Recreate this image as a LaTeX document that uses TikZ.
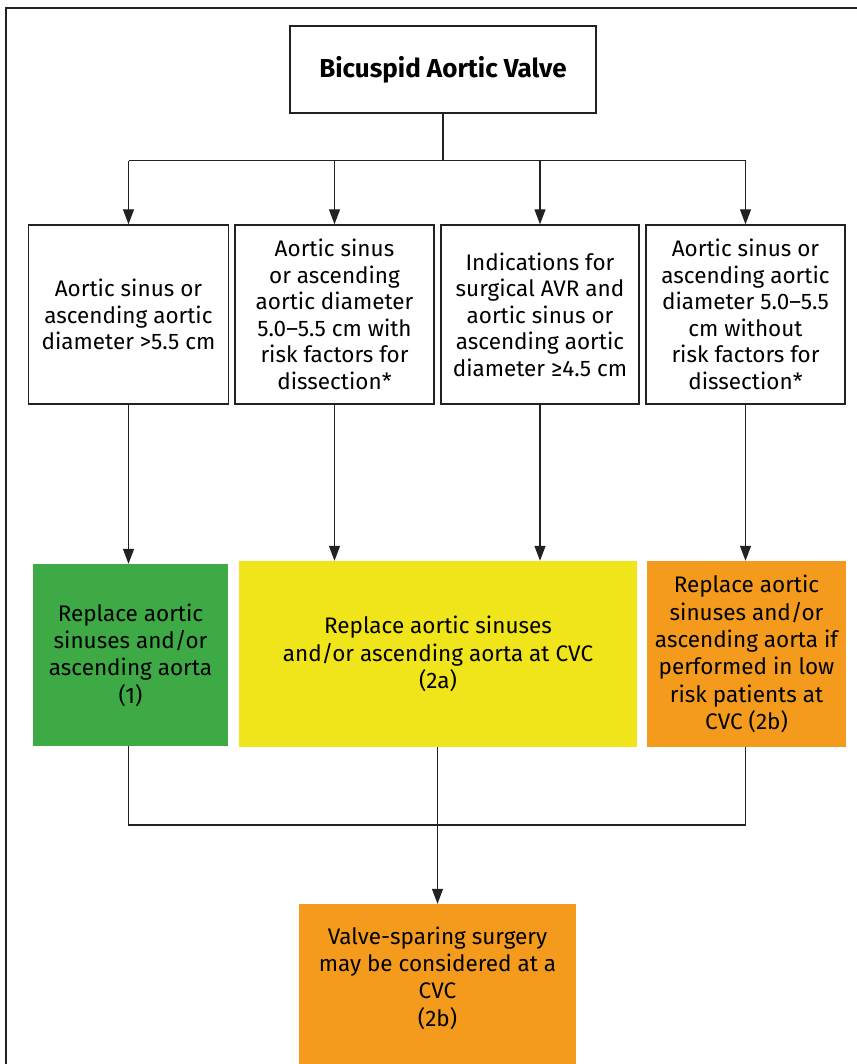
\documentclass[tikz,border=0pt]{standalone}
\usepackage{fontspec}
\setmainfont{Fira Sans}
\usetikzlibrary{arrows.meta}
\definecolor{bgreen}{HTML}{3DAA45}
\definecolor{byellow}{HTML}{F0E41A}
\definecolor{borange}{HTML}{F49B1E}
\definecolor{lineblk}{HTML}{222222}
\begin{document}
\begin{tikzpicture}[x=1pt,y=-1pt,
  box/.style={draw=lineblk,line width=1.4pt,align=center,inner sep=0pt,font=\fontsize{22.5}{26.5}\selectfont},
  res/.style={align=center,inner sep=0pt,font=\fontsize{22.5}{27.3}\selectfont},
  conn/.style={draw=lineblk,line width=1.3pt},
  arr/.style={conn,-{Triangle[length=15pt,width=11pt]}}]
\useasboundingbox (0,0) rectangle (856,1064);
% outer frame
\draw[lineblk,line width=2.5pt] (6,1070) -- (6,8) -- (870,8);
% top
\node[box,minimum width=306,minimum height=87,font=\fontsize{26}{30}\selectfont\bfseries] (top) at (443,69.5) {Bicuspid Aortic Valve};
% condition boxes
\node[box,minimum width=200,minimum height=179] (c1) at (128.5,314.5) {Aortic sinus or\\ascending aortic\\diameter >5.5 cm};
\node[box,minimum width=199,minimum height=179] (c2) at (334.5,314.5) {Aortic sinus\\or ascending\\aortic diameter\\5.0–5.5 cm with\\risk factors for\\dissection*};
\node[box,minimum width=198,minimum height=179] (c3) at (540,314.5) {Indications for\\surgical AVR and\\aortic sinus or\\ascending aortic\\diameter ≥4.5 cm};
\node[box,minimum width=199,minimum height=179] (c4) at (745.5,314.5) {Aortic sinus or\\ascending aortic\\diameter 5.0–5.5\\cm without\\risk factors for\\dissection*};
% result boxes
\node[res,fill=bgreen,minimum width=195,minimum height=182] (g) at (130.5,655) {Replace aortic\\sinuses and/or\\ascending aorta\\(1)};
\node[res,fill=byellow,minimum width=398,minimum height=186] (ye) at (438,654) {Replace aortic sinuses\\and/or ascending aorta at CVC\\(2a)};
\node[res,fill=borange,minimum width=199,minimum height=186] (o) at (746.5,654) {Replace aortic\\sinuses and/or\\ascending aorta if\\performed in low\\risk patients at\\CVC (2b)};
\node[res,fill=borange,minimum width=277,minimum height=148] (f) at (437.5,978) {Valve-sparing surgery\\may be considered at a\\CVC\\(2b)};
\fill[borange] ([yshift=0.5pt]f.south west) rectangle ([yshift=-20pt]f.south east);
% connectors
\coordinate (br) at (443,160.7);
\draw[conn] (top.south) -- (br);
\draw[conn] (c1.north |- br) -- (c4.north |- br);
\draw[arr] (c1.north |- br) -- (c1.north);
\draw[arr] (c2.north |- br) -- (c2.north);
\draw[arr] (c3.north |- br) -- (c3.north);
\draw[arr] (c4.north |- br) -- (c4.north);
\draw[arr] (c1.south) -- (c1.south |- g.north);
\draw[arr] (c2.south) -- (c2.south |- ye.north);
\draw[arr] (c3.south) -- (c3.south |- ye.north);
\draw[arr] (c4.south) -- (c4.south |- o.north);
\coordinate (jn) at (437.5,825);
\draw[conn] (c1.south |- g.south) -- (c1.south |- jn) -- (c4.south |- jn) -- (c4.south |- o.south);
\draw[arr] (ye.south -| f.north) -- (f.north);
\end{tikzpicture}
\end{document}
